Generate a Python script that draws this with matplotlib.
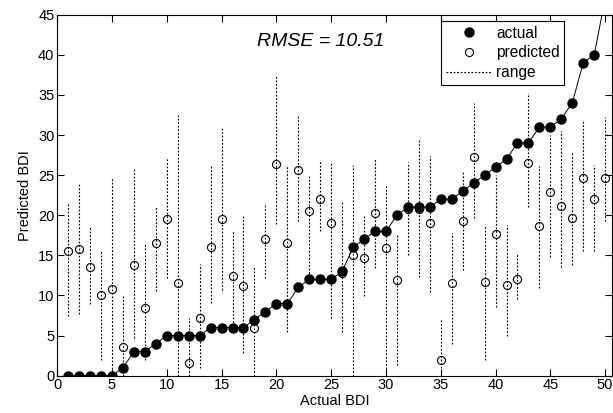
import numpy as np
import matplotlib
matplotlib.use("Agg")
import matplotlib.pyplot as plt

# Duomenys nuskaityti nuo paveikslo
subjects = np.arange(1, 51)
actual = [0, 0, 0, 0, 0, 1, 3, 3, 4, 5,
          5, 5, 5, 6, 6, 6, 6, 7, 8, 9,
          9, 11, 12, 12, 12, 13, 16, 17, 18, 18,
          20, 21, 21, 21, 22, 22, 23, 24, 25, 26,
          27, 29, 29, 31, 31, 32, 34, 39, 40, 47]
predicted = [15.6, 15.8, 13.5, 10.0, 10.8, 3.6, 13.8, 8.4, 16.6, 19.5,
             11.6, 1.6, 7.2, 16.0, 19.5, 12.4, 11.2, 6.0, 17.0, 26.4,
             16.5, 25.6, 20.5, 22.0, 19.0, 12.8, 15.1, 14.7, 20.3, 15.9,
             11.9, 20.8, 20.8, 19.0, 2.0, 11.6, 19.3, 27.2, 11.7, 17.7,
             11.3, 12.1, 26.5, 18.7, 22.9, 21.1, 19.7, 24.7, 22.0, 24.6]
range_low = [7.4, 7.7, 9.0, 2.0, 0.0, 0.0, 4.7, 2.0, 10.6, 12.2,
             0.0, 0.0, 0.9, 9.1, 10.7, 5.3, 2.8, 0.0, 12.2, 18.9,
             5.4, 19.3, 12.3, 18.0, 7.2, 5.4, 0.0, 9.9, 13.4, 0.0,
             1.3, 15.0, 12.3, 10.4, 1.0, 4.0, 13.2, 19.6, 2.0, 8.6,
             5.0, 9.5, 21.0, 10.9, 14.8, 13.5, 13.8, 15.5, 15.5, 19.3]
range_high = [21.7, 24.0, 18.7, 15.7, 24.6, 10.1, 25.9, 16.6, 21.2, 27.1,
              32.5, 7.2, 13.9, 26.1, 30.9, 18.0, 20.0, 13.5, 21.5, 37.5,
              26.1, 32.4, 24.9, 26.8, 26.5, 21.6, 26.3, 19.9, 27.0, 23.6,
              17.5, 26.7, 29.5, 27.4, 6.9, 17.8, 25.5, 34.0, 18.7, 25.0,
              18.8, 15.3, 35.2, 26.1, 30.0, 30.5, 27.7, 31.8, 26.3, 32.3]
rmse = 10.51

plt.rcParams["font.family"] = ["Liberation Sans", "DejaVu Sans"]
plt.rcParams["font.size"] = 10

fig = plt.figure(figsize=(6.13, 4.13), dpi=100)
ax = fig.add_axes([0.0933, 0.0903, 0.9046, 0.8741])

dots = (0, (1.6, 1.6))
ax.vlines(subjects, range_low, range_high, colors="black",
          linestyles=dots, linewidth=0.8)
ax.plot(subjects, predicted, "o", markerfacecolor="none",
        markeredgecolor="black", markersize=5.8, markeredgewidth=0.8)
ax.plot(subjects, actual, "-", color="black", linewidth=0.7)
ax.plot(subjects, actual, "o", color="black", markersize=6.5)

# legenda
h1, = ax.plot([], [], "o", color="black", markersize=6.5)
h2, = ax.plot([], [], "o", markerfacecolor="none", markeredgecolor="black",
              markersize=5.8, markeredgewidth=0.8)
h3, = ax.plot([], [], color="black", linestyle=dots, linewidth=0.8)
leg = ax.legend([h1, h2, h3], ["actual", "predicted", "range"],
                loc="upper left", bbox_to_anchor=(0.692, 0.9825),
                borderaxespad=0, fancybox=False, framealpha=1,
                edgecolor="black", handlelength=3.0, handletextpad=0.25,
                labelspacing=0.3, borderpad=0.3, fontsize=11.2)
leg.get_frame().set_linewidth(0.8)

ax.text(24, 41.6, f"RMSE = {rmse:.2f}", fontsize=14, style="italic",
        ha="center", va="center")

ax.set_xlim(0, 50.6)
ax.set_ylim(0, 45)
ax.set_xticks(np.arange(0, 51, 5))
ax.set_yticks(np.arange(0, 46, 5))
ax.tick_params(direction="in", top=True, right=True, length=5,
               width=0.8, labelsize=10.5, pad=2)
for s in ax.spines.values():
    s.set_linewidth(0.8)
ax.set_xlabel("Actual BDI", fontsize=10.5, labelpad=1)
ax.set_ylabel("Predicted BDI", fontsize=10.5, labelpad=4)

fig.savefig("out.png", dpi=100)
